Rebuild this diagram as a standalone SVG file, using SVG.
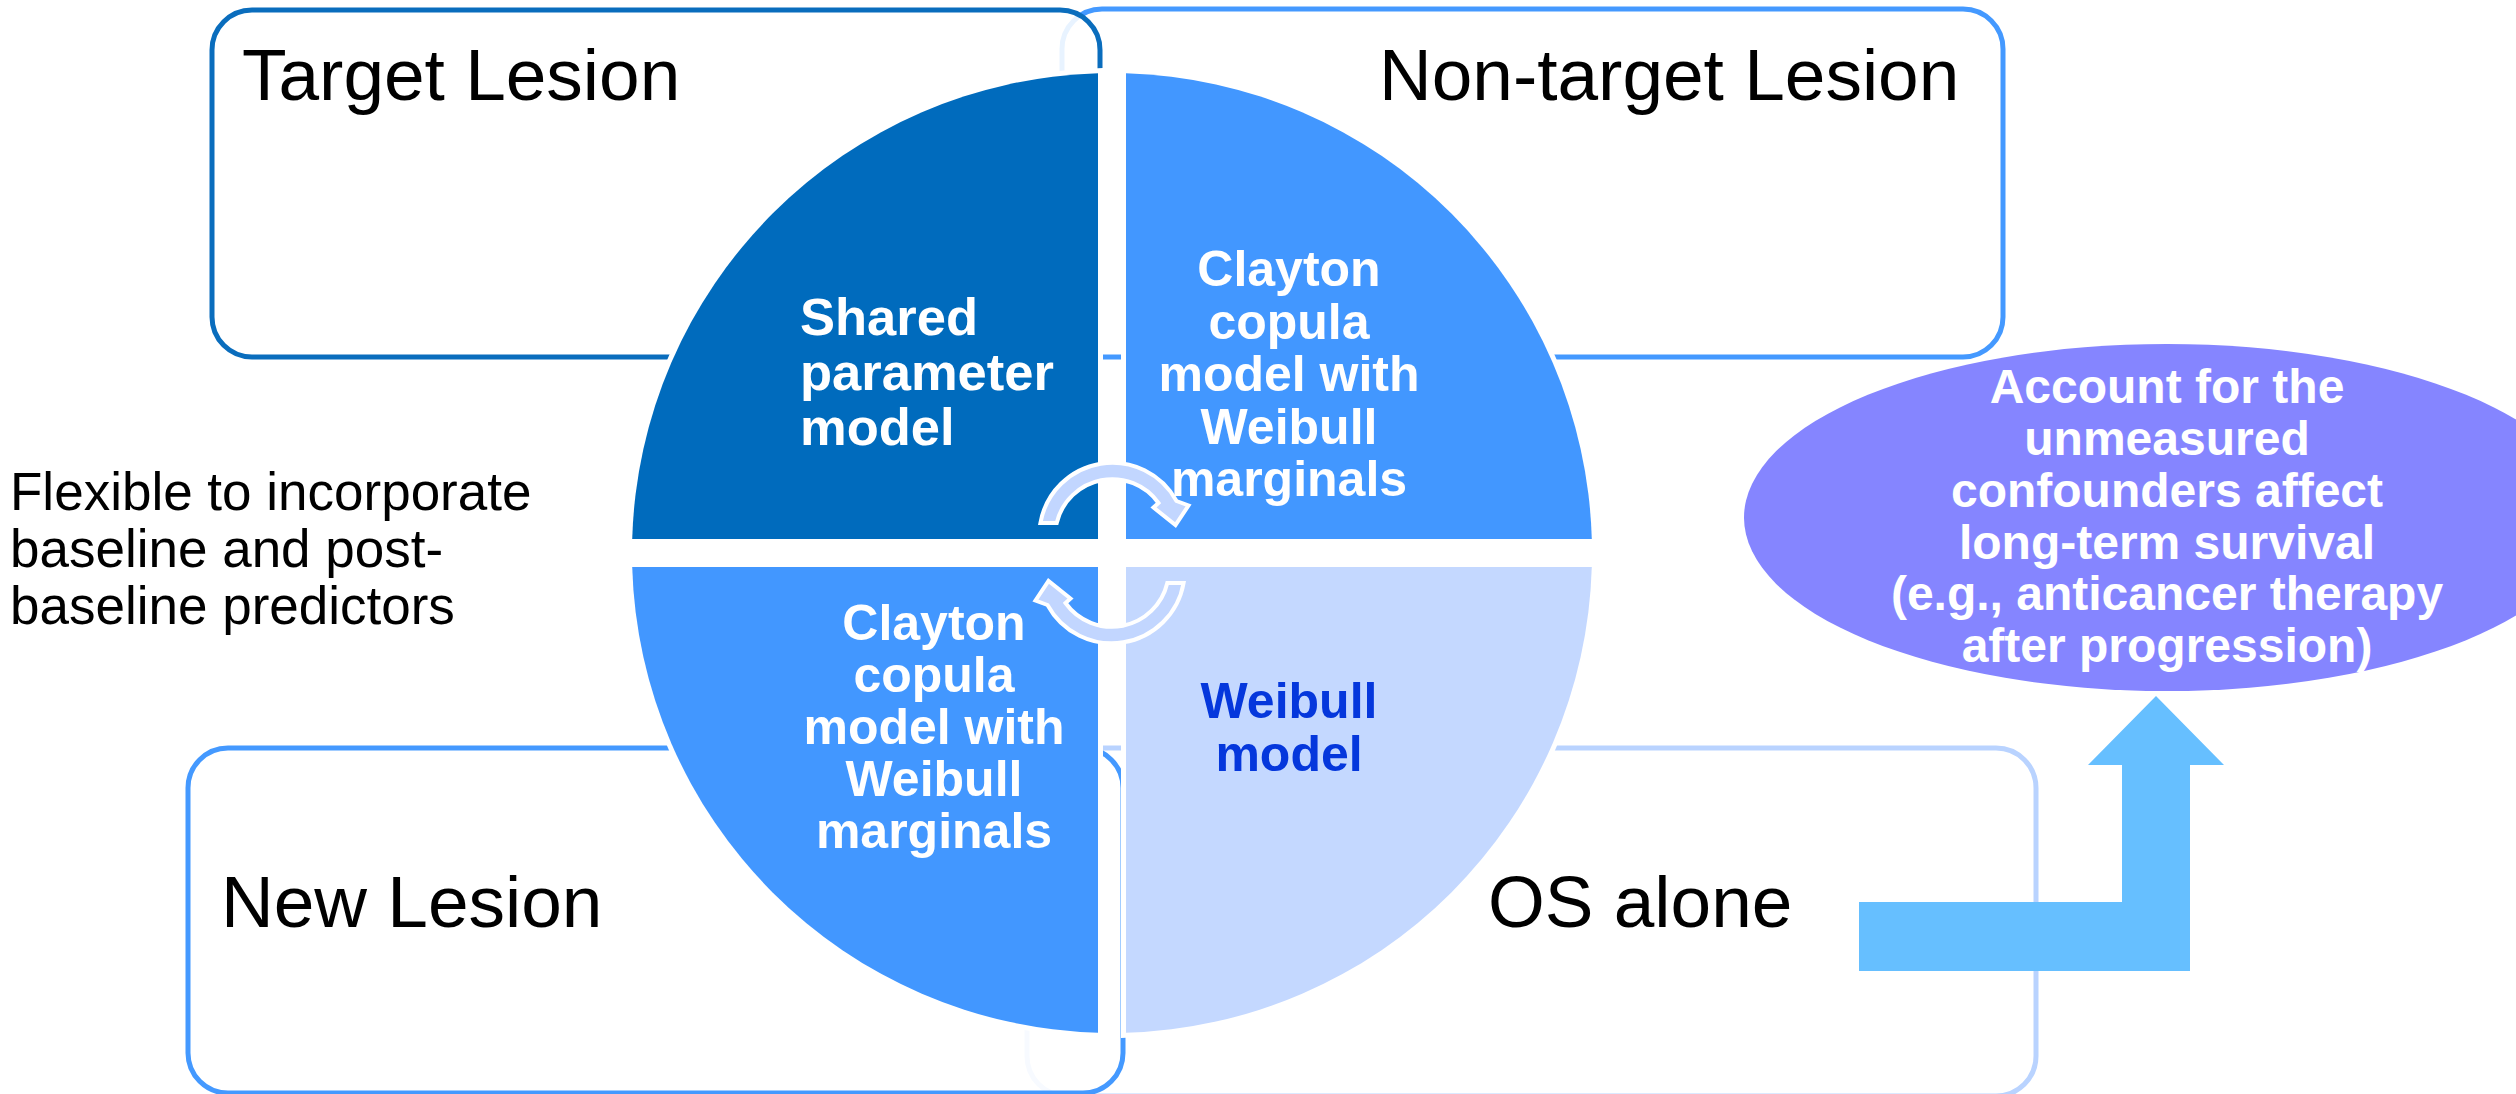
<svg xmlns="http://www.w3.org/2000/svg" width="2516" height="1094" viewBox="0 0 2516 1094">
  <defs>
    <style>
      .box { fill: #ffffff; fill-opacity: 0.88; stroke-width: 5; }
      .quad { stroke: #ffffff; stroke-width: 10; paint-order: stroke fill; }
      .title { font-family: "Liberation Sans", Arial, sans-serif; font-size: 73px; fill: #000000; }
      .note { font-family: "Liberation Sans", Arial, sans-serif; font-size: 53px; fill: #000000; }
      .qtext { font-family: "Liberation Sans", Arial, sans-serif; font-weight: bold; font-size: 50px; fill: #ffffff; text-anchor: middle; }
      .cyc { fill: #C2D6FF; stroke: #ffffff; stroke-width: 4; stroke-linejoin: miter; }
    </style>
    <!-- curved arrow of the cycle, reused twice (second one rotated 180 degrees) -->
    <path id="cycArrow" d="M1040.4,523 A73,73 0 0 1 1176.5,501 L1188.5,505.5 L1175.5,525 L1153.5,507.5 L1158.5,503 A57,57 0 0 0 1056.7,523 Z"/>
  </defs>

  <rect width="2516" height="1094" fill="#ffffff"/>

  <!-- right-hand boxes (drawn first, left boxes overlap them) -->
  <g id="box-nontarget">
    <rect class="box" x="1062" y="9" width="941" height="348" rx="40" ry="40" stroke="#4499FF"/>
    <text class="title" x="1379" y="100">Non-target Lesion</text>
  </g>
  <g id="box-os">
    <rect class="box" x="1027" y="748" width="1009" height="348" rx="40" ry="40" stroke="#B9D3FF"/>
    <text class="title" x="1488" y="927">OS alone</text>
  </g>

  <!-- left-hand boxes -->
  <g id="box-target">
    <rect class="box" x="212" y="10" width="888" height="347" rx="40" ry="40" stroke="#0A6DBD"/>
    <text class="title" x="242" y="100">Target Lesion</text>
  </g>
  <g id="box-new">
    <rect class="box" x="188" y="748" width="935" height="345" rx="40" ry="40" stroke="#4499FF"/>
    <text class="title" x="221" y="927">New Lesion</text>
  </g>

  <!-- four quadrants of the central circle -->
  <g id="quad-shared">
    <path class="quad" fill="#006BBD" d="M1098,539 H632.2 A480,480 0 0 1 1098,73.2 Z"/>
  </g>
  <g id="quad-clayton-top">
    <path class="quad" fill="#4297FF" d="M1126,539 V73.2 A480,480 0 0 1 1591.8,539 Z"/>
  </g>
  <g id="quad-weibull">
    <path class="quad" fill="#C4D8FF" d="M1126,567 H1591.8 A480,480 0 0 1 1126,1032.8 Z"/>
  </g>
  <g id="quad-clayton-bottom">
    <path class="quad" fill="#4297FF" d="M1098,567 V1032.8 A480,480 0 0 1 632.2,567 Z"/>
  </g>

  <!-- connectors: cycle arrows and the bent arrow -->
  <g id="connectors">
    <use href="#cycArrow" class="cyc"/>
    <use href="#cycArrow" class="cyc" transform="rotate(180 1112 553)"/>
    <polygon fill="#66BFFF" points="1859,902 2122,902 2122,765 2088,765 2156,696 2224,765 2190,765 2190,971 1859,971"/>
  </g>

  <!-- quadrant labels -->
  <g id="label-shared">
    <text class="qtext" style="text-anchor:start;font-size:52.5px" x="800" y="335">Shared</text>
    <text class="qtext" style="text-anchor:start;font-size:52.5px" x="800" y="390">parameter</text>
    <text class="qtext" style="text-anchor:start;font-size:52.5px" x="800" y="445">model</text>
  </g>
  <g id="label-clayton-top">
    <text class="qtext" x="1289" y="286">Clayton</text>
    <text class="qtext" x="1289" y="338.5">copula</text>
    <text class="qtext" x="1289" y="391">model with</text>
    <text class="qtext" x="1289" y="443.5">Weibull</text>
    <text class="qtext" x="1289" y="496">marginals</text>
  </g>
  <g id="label-clayton-bottom">
    <text class="qtext" x="934" y="640">Clayton</text>
    <text class="qtext" x="934" y="692">copula</text>
    <text class="qtext" x="934" y="744">model with</text>
    <text class="qtext" x="934" y="796">Weibull</text>
    <text class="qtext" x="934" y="848">marginals</text>
  </g>
  <g id="label-weibull">
    <text class="qtext" style="fill:#0537DC" x="1289" y="718">Weibull</text>
    <text class="qtext" style="fill:#0537DC" x="1289" y="771">model</text>
  </g>

  <!-- side note -->
  <g id="note-flexible">
    <text class="note" x="10" y="510">Flexible to incorporate</text>
    <text class="note" x="10" y="567">baseline and post-</text>
    <text class="note" x="10" y="624">baseline predictors</text>
  </g>

  <!-- ellipse on the right -->
  <g id="ellipse-confounders">
    <ellipse cx="2167" cy="517.5" rx="423" ry="173.5" fill="#8585FF"/>
    <text class="qtext" style="font-size:48px" x="2167" y="403">Account for the</text>
    <text class="qtext" style="font-size:48px" x="2167" y="455">unmeasured</text>
    <text class="qtext" style="font-size:48px" x="2167" y="507">confounders affect</text>
    <text class="qtext" style="font-size:48px" x="2167" y="559">long-term survival</text>
    <text class="qtext" style="font-size:48px" x="2167" y="610">(e.g., anticancer therapy</text>
    <text class="qtext" style="font-size:48px" x="2167" y="662">after progression)</text>
  </g>
</svg>
